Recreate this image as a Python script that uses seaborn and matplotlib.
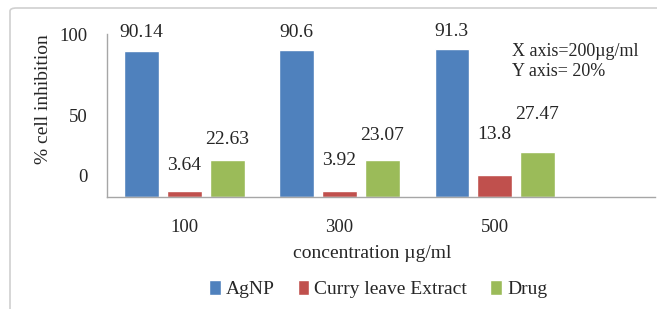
import numpy as np
import pandas as pd
import seaborn as sns
import matplotlib.pyplot as plt
from matplotlib.patches import FancyBboxPatch
from matplotlib.transforms import ScaledTranslation

# data
concentrations = ["100", "300", "500"]
agnp = [90.14, 90.6, 91.3]
curry = [3.64, 3.92, 13.8]
drug = [22.63, 23.07, 27.47]
series_names = ["AgNP", "Curry leave Extract", "Drug"]
colors = ["#4F81BD", "#C0504D", "#9BBB59"]

# label offsets above bar tops (pixels), as placed in the original
label_offsets = [[18, 18, 17], [26, 30, 40], [21, 24, 38]]

rows = []
for name, vals in zip(series_names, [agnp, curry, drug]):
    for c, v in zip(concentrations, vals):
        rows.append({"conc": c, "series": name, "value": v})
df = pd.DataFrame(rows)

sns.set_style("white")
plt.rcParams["font.family"] = ["Liberation Serif", "DejaVu Serif"]

fig = plt.figure(figsize=(6.57, 3.09), dpi=100)

# outer rounded frame
frame = FancyBboxPatch((10 / 657, 1 - 8 / 309 - 1.2), 1.2, 1.2,
                       boxstyle="round,pad=0,rounding_size=0.01",
                       transform=fig.transFigure, fill=False,
                       edgecolor="#D0D0D0", linewidth=1.2)
fig.patches.append(frame)

ax = fig.add_axes([107 / 657, 1 - 197 / 309, 548 / 657, 163 / 309])
sns.barplot(data=df, x="conc", y="value", hue="series", palette=colors,
            width=0.83, gap=0.2, saturation=1, ax=ax, legend=True)

ax.set_ylim(0, 100.5)
ax.set_xlim(-0.5, 3.035)
ax.set_yticks([0, 50, 100])
ax.tick_params(axis="y", length=0, pad=14, labelsize=13.5)
ax.tick_params(axis="x", length=0, pad=16, labelsize=13.5)
ax.set_xlabel("")
ax.set_ylabel("")
for side in ["top", "right"]:
    ax.spines[side].set_visible(False)
for side in ["left", "bottom"]:
    ax.spines[side].set_color("#A6A6A6")
    ax.spines[side].set_linewidth(1.0)

# the "0" label sits higher than its tick in the original
for lab in ax.get_yticklabels():
    if lab.get_text() == "0":
        lab.set_transform(lab.get_transform() + ScaledTranslation(0, 22 / 100, fig.dpi_scale_trans))

# value labels
for i, container in enumerate(ax.containers):
    for j, bar in enumerate(container):
        h = bar.get_height()
        ax.annotate(f"{[agnp, curry, drug][i][j]:g}",
                    (bar.get_x() + bar.get_width() / 2, h),
                    xytext=(0, label_offsets[i][j]), textcoords="offset pixels",
                    ha="center", va="center", fontsize=14)

handles, labels = ax.get_legend_handles_labels()
ax.get_legend().remove()
fig.legend(handles, labels, loc="center", bbox_to_anchor=(378 / 657, 1 - 289 / 309),
           ncol=3, frameon=False, fontsize=14, handlelength=0.6, handleheight=0.8,
           handletextpad=0.25, columnspacing=1.2)

fig.text(43 / 657, 1 - 99 / 309, "% cell inhibition", rotation=90,
         ha="center", va="center", fontsize=14)
fig.text(372 / 657, 1 - 253 / 309, "concentration µg/ml",
         ha="center", va="center", fontsize=14)
fig.text(512 / 657, 1 - 52 / 309, "X axis=200µg/ml", ha="left", va="center", fontsize=13)
fig.text(512 / 657, 1 - 72 / 309, "Y axis= 20%", ha="left", va="center", fontsize=13)

fig.savefig("out.png", dpi=100)
